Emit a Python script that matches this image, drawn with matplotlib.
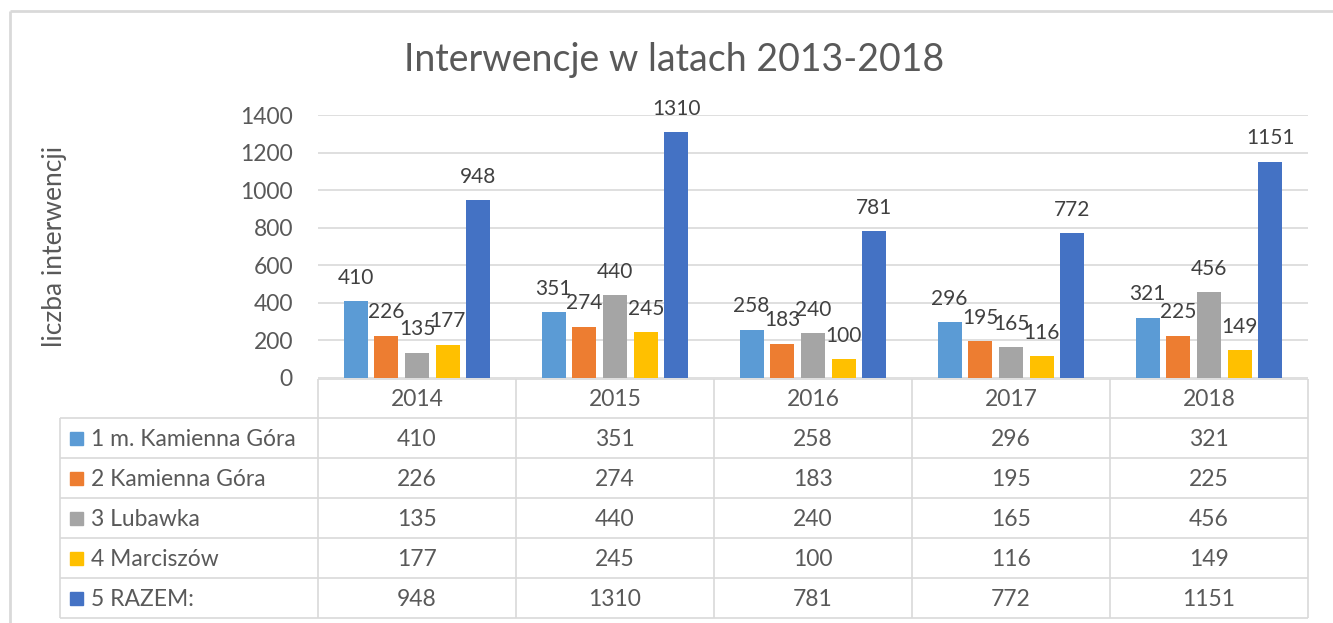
import matplotlib
matplotlib.use("Agg")
import matplotlib.pyplot as plt
import numpy as np

plt.rcParams['font.family'] = ['Lato', 'DejaVu Sans']

title = "Interwencje w latach 2013-2018"
ylabel = "liczba interwencji"
years = ["2014", "2015", "2016", "2017", "2018"]
series_names = ["1 m. Kamienna Góra", "2 Kamienna Góra", "3 Lubawka",
                "4 Marciszów", "5 RAZEM:"]
kamienna_gora_miasto = [410, 351, 258, 296, 321]
kamienna_gora_gmina = [226, 274, 183, 195, 225]
lubawka = [135, 440, 240, 165, 456]
marciszow = [177, 245, 100, 116, 149]
razem = [948, 1310, 781, 772, 1151]
series = [kamienna_gora_miasto, kamienna_gora_gmina, lubawka, marciszow, razem]
colors = ["#5B9BD5", "#ED7D31", "#A5A5A5", "#FFC000", "#4472C4"]

TEXT = "#595959"
GRID = "#D9D9D9"
W, H = 1333, 623
DPI = 100
FS = 16.5

fig = plt.figure(figsize=(W / DPI, H / DPI), dpi=DPI)

# full-figure overlay in pixel coordinates for frame, title and data table
ov = fig.add_axes([0, 0, 1, 1])
ov.set_xlim(0, W)
ov.set_ylim(H, 0)
ov.axis("off")

# plot area in pixel coordinates
x0, x1 = 318, 1308
ytop, ybot = 115, 378
ax = fig.add_axes([x0 / W, (H - ybot) / H, (x1 - x0) / W, (ybot - ytop) / H])

n = len(years)
step = 0.155
width = 0.122
x = np.arange(n)
for i, (vals, c) in enumerate(zip(series, colors)):
    pos = x + (i - 2) * step
    ax.bar(pos, vals, width=width, color=c, zorder=3)
    for p, v in zip(pos, vals):
        ax.annotate(str(v), (p, v), xytext=(0, 12.5), textcoords="offset points",
                    ha="center", va="baseline", fontsize=15, color="#404040",
                    zorder=4)

ax.set_xlim(-0.5, n - 0.5)
ax.set_ylim(0, 1400)
ax.set_yticks(range(0, 1401, 200))
ax.set_xticks([])
ax.tick_params(axis="y", length=0, pad=18, labelsize=FS, labelcolor=TEXT)
ax.yaxis.grid(True, color=GRID, linewidth=1.2, zorder=0)
for s in ax.spines.values():
    s.set_visible(False)
ax.set_facecolor("none")
ax.set_ylabel(ylabel, fontsize=19, color=TEXT)
ax.yaxis.set_label_coords((67 - x0) / (x1 - x0), 0.5)

# outer frame
ov.plot([10, 10], [11, H], color=GRID, lw=2, solid_capstyle="butt")
ov.plot([10, W], [11, 11], color=GRID, lw=2, solid_capstyle="butt")

# chart title
ov.text(674, 60, title, ha="center", va="center", fontsize=27, color=TEXT)

# data table
col_w = (x1 - x0) / n
head_top, head_bot = 379, 418
row_h = 40
lab_left = 60
rows_bot = head_bot + row_h * len(series)
lk = dict(color=GRID, lw=1.2, solid_capstyle="butt")
ov.plot([x0, x1], [head_top, head_top], **lk)
for r in range(len(series) + 1):
    yy = head_bot + r * row_h
    ov.plot([lab_left, x1], [yy, yy], **lk)
ov.plot([lab_left, lab_left], [head_bot, rows_bot], **lk)
for j in range(n + 1):
    xx = x0 + j * col_w
    ov.plot([xx, xx], [head_top, rows_bot], **lk)
for j, yr in enumerate(years):
    ov.text(x0 + (j + 0.5) * col_w, (head_top + head_bot) / 2 + 1, yr,
            ha="center", va="center", fontsize=FS, color=TEXT)
for r, (name, vals, c) in enumerate(zip(series_names, series, colors)):
    yc = head_bot + (r + 0.5) * row_h + 1
    ov.add_patch(plt.Rectangle((70, yc - 7), 13, 13, color=c))
    ov.text(91, yc, name, ha="left", va="center", fontsize=FS, color=TEXT)
    for j, v in enumerate(vals):
        ov.text(x0 + (j + 0.5) * col_w, yc, str(v), ha="center", va="center",
                fontsize=FS, color=TEXT)

fig.savefig("out.png", dpi=DPI)
